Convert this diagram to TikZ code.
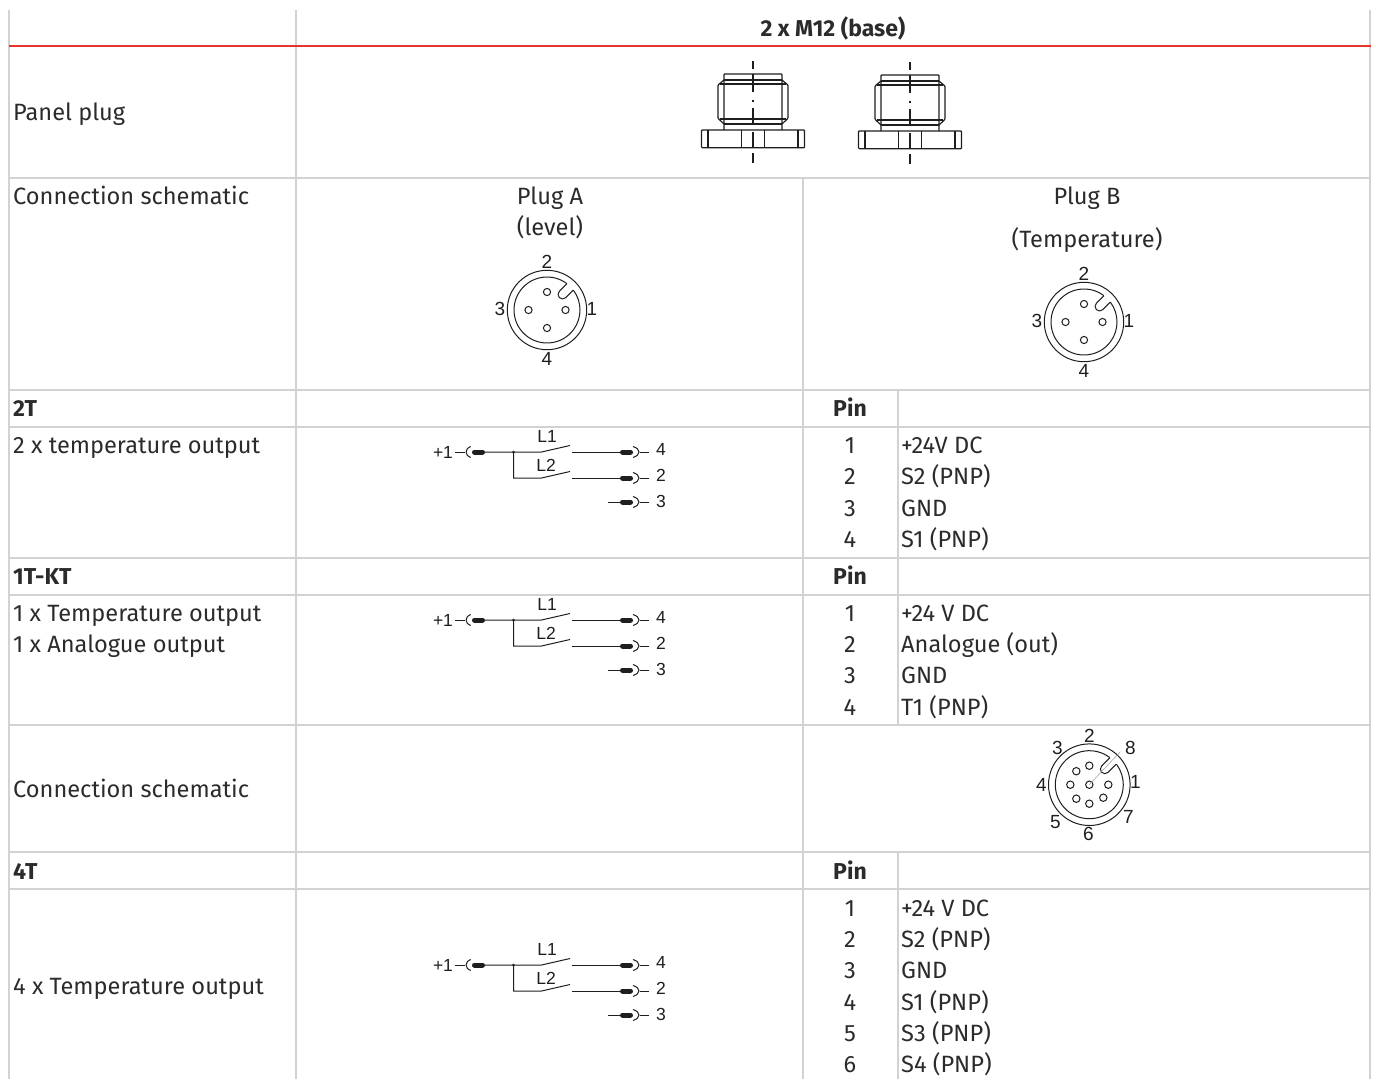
\documentclass[tikz,border=0pt]{standalone}
\usepackage{fontspec}
\setmainfont{Fira Sans}
\newfontfamily\lblfont{Liberation Sans}
\definecolor{gridc}{HTML}{D2D2D2}
\definecolor{redc}{HTML}{E8322C}
\definecolor{txtc}{HTML}{2B2B2B}
\definecolor{ink}{HTML}{1E1E1E}
\tikzset{
  gridline/.style={draw=gridc,line width=1.2pt},
  redline/.style={draw=redc,line width=1.4pt},
  body/.style={font=\fontsize{23.6}{26}\selectfont,text=txtc,inner sep=0pt,anchor=base west},
  bodyc/.style={body,anchor=base},
  head/.style={body,font=\fontsize{23}{26}\selectfont\bfseries},
  headc/.style={head,anchor=base},
  lbl/.style={font=\lblfont\fontsize{19}{21}\selectfont,text=ink,inner sep=0pt},
  lbls/.style={font=\lblfont\fontsize{17.5}{19}\selectfont,text=ink,inner sep=0pt},
  wire/.style={draw=ink,line width=1pt},
  pinbar/.style={draw=ink,line width=5pt,line cap=round},
  mech/.style={draw=ink,line width=1.2pt,rounded corners=0.8pt},
  axis/.style={draw=ink,line width=1.2pt},
  conn/.style={draw=ink,line width=1pt},
  fine/.style={draw=gray!70,line width=0.6pt}
}
\newcommand{\Plug}[2]{%
\begin{scope}[shift={(#1,#2)}]
  \draw[mech] (-29,50) -- (-29,-6) -- (29,-6) -- (29,50);
  \draw[mech] (-29,0) -- (29,0);
  \draw[mech] (-33,4) -- (33,4);
  \draw[mech] (-29,0) -- (-35,5) -- (-35,38.3) -- (-29,44);
  \draw[mech] (29,0) -- (35,5) -- (35,38.3) -- (29,44);
  \draw[mech] (-33,39) -- (33,39);
  \draw[mech] (-29,44) -- (29,44);
  \draw[mech] (-51.5,50) rectangle (51.5,67.7);
  \draw[mech] (-45,50) -- (-45,67.7);
  \draw[mech] (45,50) -- (45,67.7);
  \draw[mech] (-11.5,50) -- (-11.5,67.7);
  \draw[mech] (11.5,50) -- (11.5,67.7);
  \draw[axis] (0,-19) -- (0,-10.7);
  \draw[axis] (0,-6) -- (0,11.7);
  \draw[axis] (0,19.5) -- (0,21.5);
  \draw[axis] (0,28) -- (0,43);
  \draw[axis] (0,52) -- (0,67);
  \draw[axis] (0,73) -- (0,83);
\end{scope}}
\newcommand{\KeyRing}[4]{% x y rout rin
\begin{scope}[shift={(#1,#2)},y=1pt]
  \draw[conn] (0,0) circle (#3);
  \begin{scope}[rotate=45]
    \draw[conn] ({#4*cos(8)},4.5) -- (22,4.5) arc (90:270:4.5) -- ({#4*cos(8)},-4.5);
    \draw[conn] (8:#4) arc (8:352:#4);
  \end{scope}
\end{scope}}
\newcommand{\Four}[3]{% name x y
\KeyRing{#2}{#3}{39.7}{33}
\begin{scope}[shift={(#2,#3)}]
  \draw[conn] (0,-18) circle (3.6);
  \draw[conn] (18.5,0) circle (3.6);
  \draw[conn] (-18.5,0) circle (3.6);
  \draw[conn] (0,18) circle (3.6);
  \node[lbl] (#1p2) at (0,-48) {2};
  \node[lbl] (#1p4) at (0,49) {4};
  \node[lbl] (#1p3) at (-47,-1) {3};
  \node[lbl] (#1p1) at (45,-1) {1};
\end{scope}}
\newcommand{\Schem}[2]{% name y
\begin{scope}[shift={(0,#2)}]
  \node[lbls] (#1plus) at (443,0) {+1};
  \node[lbls] (#1lA) at (547,-16) {L1};
  \node[lbls] (#1lB) at (546,13) {L2};
  \node[lbls] (#1pA) at (661,-3) {4};
  \node[lbls] (#1pB) at (661,23) {2};
  \node[lbls] (#1pC) at (661,49.5) {3};
  \draw[wire] (455,0) -- (465,0);
  \draw[wire] (470.7,-5.5) .. controls (464.5,-3) and (464.5,3) .. (470.7,5.5);
  \draw[pinbar] (474.5,0) -- (482.5,0);
  \draw[wire] (483,0) -- (541.5,0) -- (570,-6.5);
  \fill[ink] (513.5,0) circle (1.5);
  \draw[wire] (513.5,0) -- (513.5,26) -- (541.5,26) -- (570,19.5);
  \draw[wire] (572,0) -- (621,0);
  \draw[wire] (572,26) -- (621,26);
  \draw[wire] (608,50) -- (621,50);
  \foreach \yy in {0,26,50} {
    \draw[pinbar] (622.5,\yy) -- (630.5,\yy);
    \draw[wire] (633,\yy-5.5) .. controls (641,\yy-3) and (641,\yy+3) .. (633,\yy+5.5);
    \draw[wire] (640,\yy) -- (649,\yy);
  }
\end{scope}}
\begin{document}
\begin{tikzpicture}[x=1pt,y=-1pt]
\useasboundingbox (0,0) rectangle (1376,1079);
% grid
\foreach \yy in {178,390,427,558,595,725,852,889} \draw[gridline] (9,\yy) -- (1371,\yy);
\draw[gridline] (9,10) -- (9,1079);
\draw[gridline] (296,10) -- (296,1079);
\draw[gridline] (1370,10) -- (1370,1079);
\draw[gridline] (803,178) -- (803,1079);
\draw[gridline] (898,390) -- (898,725);
\draw[gridline] (898,852) -- (898,1079);
\draw[redline] (9,46) -- (1371,46);
% header
\node[headc] (title) at (833,36) {2 x M12 (base)};
% left column
\node[body] (a1) at (13,120) {Panel plug};
\node[body] (a2) at (13,204) {Connection schematic};
\node[head] (a3) at (13,416) {2T};
\node[body] (a4) at (13,453) {2 x temperature output};
\node[head] (a5) at (13,584) {1T-KT};
\node[body] (a6) at (13,621) {1 x Temperature output};
\node[body] (a7) at (13,652) {1 x Analogue output};
\node[body] (a8) at (13,797) {Connection schematic};
\node[head] (a9) at (13,879) {4T};
\node[body] (a10) at (13,994) {4 x Temperature output};
% plug titles
\node[bodyc] (pa1) at (550,204) {Plug A};
\node[bodyc] (pa2) at (550,235) {(level)};
\node[bodyc] (pb1) at (1087,204) {Plug B};
\node[bodyc] (pb2) at (1087,247) {(Temperature)};
% pin heads
\node[headc] (ph1) at (850,416) {Pin};
\node[headc] (ph2) at (850,584) {Pin};
\node[headc] (ph3) at (850,879) {Pin};
% pin tables
\node[bodyc] (n11) at (850,453) {1};
\node[bodyc] (n12) at (850,484) {2};
\node[bodyc] (n13) at (850,516) {3};
\node[bodyc] (n14) at (850,547) {4};
\node[body] (s11) at (901,453) {+24V DC};
\node[body] (s12) at (901,484) {S2 (PNP)};
\node[body] (s13) at (901,516) {GND};
\node[body] (s14) at (901,547) {S1 (PNP)};
\node[bodyc] (n21) at (850,621) {1};
\node[bodyc] (n22) at (850,652) {2};
\node[bodyc] (n23) at (850,683) {3};
\node[bodyc] (n24) at (850,715) {4};
\node[body] (s21) at (901,621) {+24 V DC};
\node[body] (s22) at (901,652) {Analogue (out)};
\node[body] (s23) at (901,683) {GND};
\node[body] (s24) at (901,715) {T1 (PNP)};
\node[bodyc] (n31) at (850,916) {1};
\node[bodyc] (n32) at (850,947) {2};
\node[bodyc] (n33) at (850,978) {3};
\node[bodyc] (n34) at (850,1010) {4};
\node[bodyc] (n35) at (850,1041) {5};
\node[bodyc] (n36) at (850,1072) {6};
\node[body] (s31) at (901,916) {+24 V DC};
\node[body] (s32) at (901,947) {S2 (PNP)};
\node[body] (s33) at (901,978) {GND};
\node[body] (s34) at (901,1010) {S1 (PNP)};
\node[body] (s35) at (901,1041) {S3 (PNP)};
\node[body] (s36) at (901,1072) {S4 (PNP)};
% panel plugs
\Plug{753}{80}
\Plug{910}{81}
% connectors
\Four{ca}{547}{310}
\Four{cb}{1084}{322}
% 8-pin
\KeyRing{1089.3}{784.7}{40.8}{34}
\begin{scope}[shift={(1089.3,784.7)}]
  \draw[conn] (0,0) circle (3.7);
  \draw[conn] (19,0) circle (3.7);
  \draw[conn] (14,13) circle (3.7);
  \draw[conn] (0,19) circle (3.7);
  \draw[conn] (-13,14) circle (3.7);
  \draw[conn] (-19,0) circle (3.7);
  \draw[conn] (-13,-13.5) circle (3.7);
  \draw[conn] (0,-19) circle (3.7);
  \draw[fine] (0,0) -- (31,-33);
  \node[lbl] (c81) at (46,-3) {1};
  \node[lbl] (c82) at (0,-49) {2};
  \node[lbl] (c83) at (-32,-37) {3};
  \node[lbl] (c84) at (-48,0) {4};
  \node[lbl] (c85) at (-34,37) {5};
  \node[lbl] (c86) at (-1,49) {6};
  \node[lbl] (c87) at (39,32) {7};
  \node[lbl] (c88) at (41,-37) {8};
\end{scope}
% switch diagrams
\Schem{sa}{452}
\Schem{sb}{620}
\Schem{sc}{965}
\end{tikzpicture}
\end{document}
